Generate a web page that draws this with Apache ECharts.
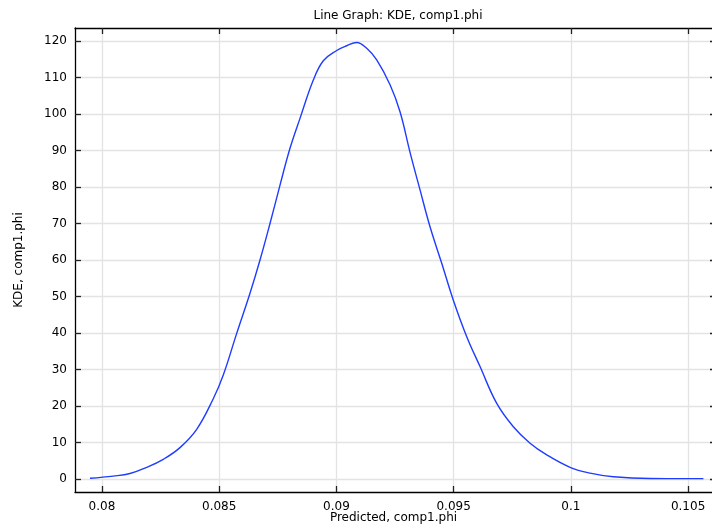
<!DOCTYPE html>
<html>
<head>
<meta charset="utf-8">
<script src="https://cdn.jsdelivr.net/npm/echarts@6/dist/echarts.min.js"></script>
<style>html,body{margin:0;padding:0;background:#fff}#c{width:712px;height:525px}</style>
</head>
<body>
<div id="c"></div>
<script>
const xValues = [0.079488,0.080482,0.081195,0.081907,0.082615,0.083328,0.084040,0.084748,0.085175,0.085747,0.086314,0.086741,0.087167,0.087594,0.088020,0.088447,0.089015,0.089441,0.090013,0.090439,0.090866,0.091293,0.091719,0.092287,0.092713,0.093140,0.093567,0.093993,0.094492,0.094987,0.095559,0.096126,0.096839,0.097547,0.098259,0.098972,0.099966,0.100819,0.101813,0.103379,0.105653];
const kdeValues = [0.2,0.8,1.5,3.2,5.4,8.6,13.6,22.0,28.5,39.9,50.9,60.0,70.0,80.5,90.6,98.8,109.3,114.6,117.4,118.7,119.6,118.0,114.8,108.0,100.6,89.5,79.2,69.1,59.1,49.0,39.0,30.8,20.7,14.3,9.8,6.6,3.2,1.6,0.6,0.12,0.1];
const xTicks = [0.08,0.085,0.09,0.095,0.1,0.105];
const yTicks = [0,10,20,30,40,50,60,70,80,90,100,110,120];

const font = 'DejaVu Sans';
const xMin = 0.07885, xMax = 0.10602, yMin = -3.56, yMax = 123.56;
const chart = echarts.init(document.getElementById('c'));
const baseX = {
  type: 'value', min: xMin, max: xMax,
  axisTick: {show: true, inside: true, length: 6, customValues: xTicks, lineStyle: {color: '#222', width: 1.3}},
  axisLine: {show: true, onZero: false, lineStyle: {color: '#000', width: 1.3}},
};
chart.setOption({
  animation: false,
  title: {text: 'Line Graph: KDE, comp1.phi', left: 393, top: 5, textAlign: 'center',
    textStyle: {fontFamily: font, fontSize: 12, fontWeight: 'normal', color: '#000'}},
  grid: {left: 75, top: 28, right: 0, bottom: 33, containLabel: false, outerBoundsMode: 'none'},
  xAxis: [
    Object.assign({}, baseX, {position: 'bottom',
      name: 'Predicted, comp1.phi', nameLocation: 'middle', nameGap: 20, nameMoveOverlap: false,
      nameTextStyle: {fontFamily: font, fontSize: 12, color: '#000'},
      axisLabel: {customValues: xTicks, fontFamily: font, fontSize: 12, color: '#000', margin: 9,
        formatter: v => String(+v.toFixed(4))},
      splitLine: {show: true, lineStyle: {color: '#e3e3e3', width: 1.3}}}),
    Object.assign({}, baseX, {position: 'top', axisLabel: {show: false}, splitLine: {show: false}})
  ],
  yAxis: [
    {type: 'value', min: yMin, max: yMax, position: 'left',
      name: 'KDE, comp1.phi', nameLocation: 'middle', nameGap: 50, nameRotate: 90, nameMoveOverlap: false,
      nameTextStyle: {fontFamily: font, fontSize: 12, color: '#000'},
      axisTick: {show: true, inside: true, length: 6, customValues: yTicks, lineStyle: {color: '#222', width: 1.3}},
      axisLine: {show: true, onZero: false, lineStyle: {color: '#000', width: 1.3}},
      axisLabel: {customValues: yTicks, fontFamily: font, fontSize: 12, color: '#000', margin: 8},
      splitLine: {show: true, lineStyle: {color: '#e3e3e3', width: 1.3}}},
    {type: 'value', min: yMin, max: yMax, position: 'right',
      axisTick: {show: true, inside: true, length: 2, customValues: yTicks, lineStyle: {color: '#222', width: 1.3}},
      axisLine: {show: false}, axisLabel: {show: false}, splitLine: {show: false}}
  ],
  series: [{
    type: 'line', xAxisIndex: 0, yAxisIndex: 0,
    data: xValues.map((x, i) => [x, kdeValues[i]]),
    smooth: 0.4, showSymbol: false, symbol: 'none',
    lineStyle: {color: '#1f3cff', width: 1.4}
  }]
});
</script>
</body>
</html>
